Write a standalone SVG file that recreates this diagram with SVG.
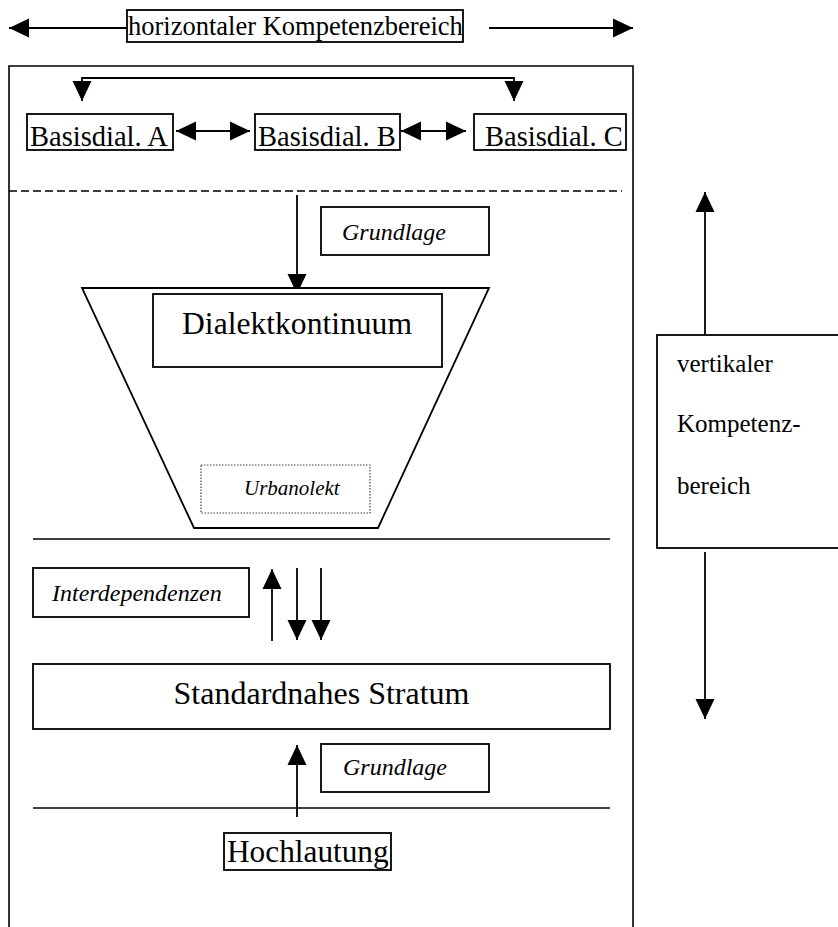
<svg xmlns="http://www.w3.org/2000/svg" width="838" height="927" viewBox="0 0 838 927">
<defs>
<style>
.box{fill:#fff;stroke:#000;stroke-width:1.8}
.ln{fill:none;stroke:#000;stroke-width:1.6}
.arr{fill:none;stroke:#000;stroke-width:1.8;marker-end:url(#ah)}
.dbl{fill:none;stroke:#000;stroke-width:1.8;marker-start:url(#ah);marker-end:url(#ah)}
.t{font-family:"Liberation Serif","Times New Roman",serif;fill:#000}
.i{font-family:"Liberation Serif","Times New Roman",serif;font-style:italic;fill:#000}
</style>
<marker id="ah" viewBox="0 0 20 20" refX="20" refY="10" markerWidth="20" markerHeight="20" markerUnits="userSpaceOnUse" orient="auto-start-reverse">
<path d="M0,0.5 L20,10 L0,19.5 z" fill="#000"/>
</marker>
</defs>
<rect width="838" height="927" fill="#fff"/>

<g id="frame">
<path class="ln" d="M9,927 V66 H633 V927"/>
<line class="ln" x1="9" y1="191" x2="622" y2="191" stroke-width="2" stroke-dasharray="8,4"/>
<line class="ln" x1="33" y1="539" x2="610" y2="539"/>
<line class="ln" x1="33" y1="808" x2="610" y2="808"/>
</g>

<g id="connectors">
<line class="arr" x1="127" y1="28" x2="9" y2="28"/>
<line class="arr" x1="489" y1="28" x2="633" y2="28"/>
<path class="dbl" d="M82,101 V78 H514 V101"/>
<line class="dbl" x1="176" y1="131" x2="250" y2="131"/>
<line class="dbl" x1="401" y1="131" x2="466" y2="131"/>
<line class="arr" x1="297" y1="195" x2="297" y2="294"/>
<line class="arr" x1="272" y1="641" x2="272" y2="569"/>
<line class="arr" x1="297" y1="568" x2="297" y2="640"/>
<line class="arr" x1="321" y1="568" x2="321" y2="640"/>
<line class="arr" x1="297" y1="817" x2="297" y2="745"/>
<line class="arr" x1="705" y1="335" x2="705" y2="192"/>
<line class="arr" x1="705" y1="552" x2="705" y2="719"/>
</g>

<g id="horizontal">
<rect class="box" x="127" y="10" width="336" height="32"/>
<text class="t" x="128" y="35" font-size="26.5">horizontaler Kompetenzbereich</text>
</g>

<g id="basisA">
<rect class="box" x="27" y="114" width="146" height="36"/>
<text class="t" x="30" y="146" font-size="28.5">Basisdial. A</text>
</g>
<g id="basisB">
<rect class="box" x="255" y="114" width="145" height="36"/>
<text class="t" x="258" y="146" font-size="28.5">Basisdial. B</text>
</g>
<g id="basisC">
<rect class="box" x="474" y="114" width="152" height="36"/>
<text class="t" x="485" y="146" font-size="28.5">Basisdial. C</text>
</g>

<g id="grundlage1">
<rect class="box" x="321" y="207" width="168" height="48"/>
<text class="i" x="342" y="240" font-size="24">Grundlage</text>
</g>

<g id="trichter">
<polygon class="box" points="82,288 489,288 378,528 194,528"/>
</g>

<g id="dialektkontinuum">
<rect class="box" x="153" y="294" width="289" height="73"/>
<text class="t" x="297" y="334" font-size="31.6" text-anchor="middle">Dialektkontinuum</text>
</g>

<g id="urbanolekt">
<rect x="201" y="465" width="169" height="48" fill="#fff" stroke="#444" stroke-width="1.2" stroke-dasharray="1.5,1.5"/>
<text class="i" x="244" y="495" font-size="21">Urbanolekt</text>
</g>

<g id="interdependenzen">
<rect class="box" x="33" y="568" width="216" height="49"/>
<text class="i" x="52" y="601" font-size="24">Interdependenzen</text>
</g>

<g id="standardnahes">
<rect class="box" x="33" y="664" width="577" height="65"/>
<text class="t" x="321.5" y="704" font-size="32" text-anchor="middle">Standardnahes Stratum</text>
</g>

<g id="grundlage2">
<rect class="box" x="321" y="744" width="168" height="48"/>
<text class="i" x="343" y="775" font-size="24">Grundlage</text>
</g>

<g id="hochlautung">
<rect class="box" x="224" y="833" width="167" height="37"/>
<text class="t" x="227" y="862" font-size="31.3">Hochlautung</text>
</g>

<g id="vertikal">
<rect class="box" x="657" y="335" width="190" height="213"/>
<text class="t" x="677" y="372" font-size="25">vertikaler</text>
<text class="t" x="677" y="432" font-size="25">Kompetenz-</text>
<text class="t" x="677" y="494" font-size="25">bereich</text>
</g>
</svg>
